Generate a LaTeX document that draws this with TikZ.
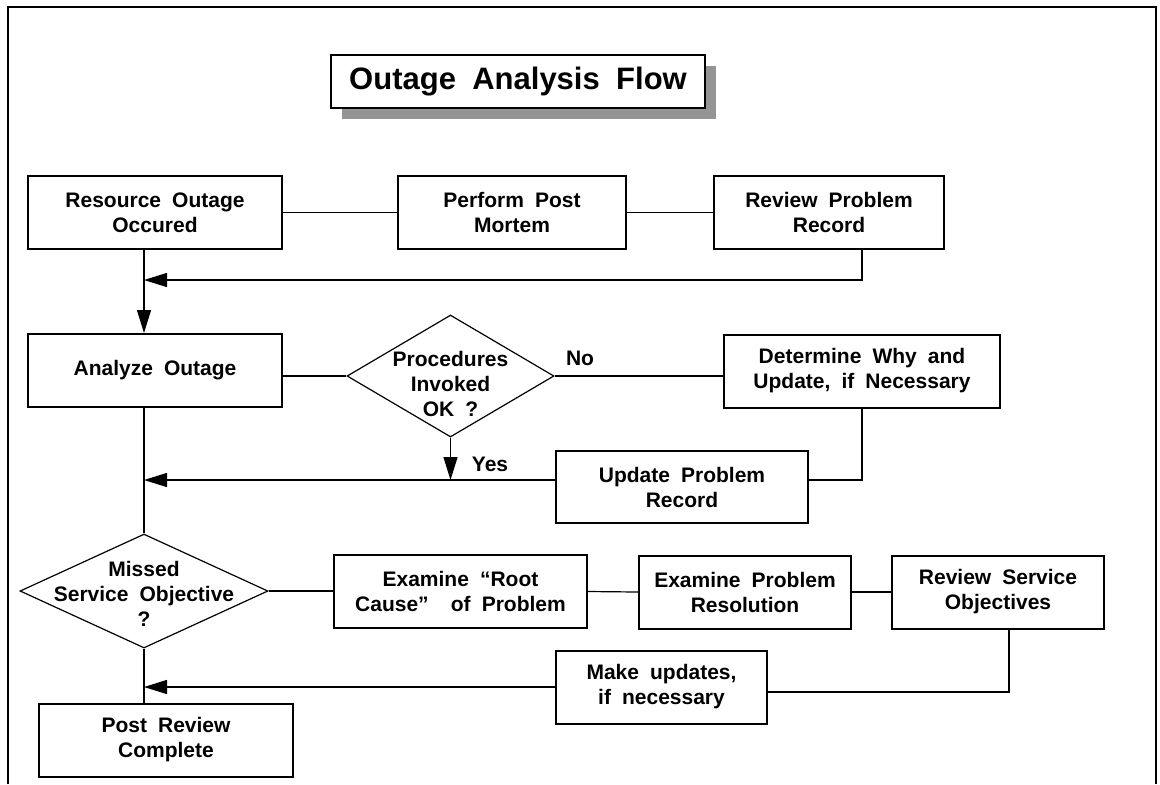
\documentclass[tikz,border=0pt]{standalone}
\usepackage{fontspec}
\setmainfont{Liberation Sans}[WordSpace=1.9]
\usetikzlibrary{arrows.meta,shapes.geometric,shadows}

\begin{document}
\begin{tikzpicture}[x=0.5pt, y=-0.5pt,
    box/.style={rectangle, draw, line width=1pt, align=center, inner sep=0pt,
      minimum height=36.5pt, font=\bfseries\fontsize{10.5}{12.5}\selectfont},
    choice/.style={diamond, draw, line width=0.6pt, inner sep=0pt},
    txt/.style={align=center, inner sep=0pt, font=\bfseries\fontsize{10.5}{12.5}\selectfont},
    link/.style={line width=0.6pt},
    flow/.style={line width=0.6pt, -{Triangle[length=11.5pt,width=7pt]}}]
  \useasboundingbox (0,0) rectangle (1160,784);

  % page frame
  \draw[line width=1pt] (8,784) -- (8,7) -- (1156,7) -- (1156,784);

  % heading
  \node[draw, line width=1.2pt, fill=white, minimum width=187pt, minimum height=26.5pt,
    font=\bfseries\fontsize{15.5}{18}\selectfont,
    drop shadow={shadow xshift=5.5pt, shadow yshift=-5.5pt, fill=black!42, opacity=1}]
    (title) at (518,81.5) {Outage Analysis Flow};

  % top row
  \node[box, minimum width=127pt] (res) at (155,212.5) {Resource Outage\\Occured};
  \node[box, minimum width=114pt] (pm) at (512,212.5) {Perform Post\\Mortem};
  \node[box, minimum width=115pt] (rpr) at (829,212.5) {Review Problem\\Record};

  % analysis
  \node[box, minimum width=127pt] (ana) at (155,370.5) {Analyze Outage};
  \node[choice, minimum width=103.5pt, minimum height=61pt] (proc) at (450.5,376) {};
  \node[txt] (proctxt) at (450.5,384) {Procedures\\Invoked\\OK ?};
  \node[box, minimum width=138pt] (det) at (862,371) {Determine Why and\\Update, if Necessary};
  \node[box, minimum width=126pt, minimum height=36pt] (upd) at (682,487) {Update Problem\\Record};
  \node[txt] (no) at (580,358) {No};
  \node[txt] (yes) at (490,464) {Yes};

  % service objective check
  \node[choice, minimum width=124pt, minimum height=57pt] (miss) at (144,591) {};
  \node[txt] (misstxt) at (144,594) {Missed\\Service Objective\\?};
  \node[box, minimum width=126.5pt] (root) at (460.5,591.5) {Examine “Root\\Cause”\ \ of Problem};
  \node[box, minimum width=106pt] (resn) at (745,592) {Examine Problem\\Resolution};
  \node[box, minimum width=106pt] (rso) at (998,592) {Review Service\\Objectives};
  \node[box, minimum width=105.5pt] (mku) at (661.5,687) {Make updates,\\if necessary};
  \node[box, minimum width=127pt] (post) at (166,740) {Post Review\\Complete};

  % trunk and return points
  \coordinate (trunk) at (144,0);
  \coordinate (back1) at (862,280);
  \coordinate (back2) at (144,480);
  \coordinate (back3) at (1009,692);

  \draw[link] (res.east) -- (pm.west);
  \draw[link] (pm.east) -- (rpr.west);
  \draw[flow] (res.south -| trunk) -- (ana.north -| trunk);
  \draw[flow] (rpr.south -| back1) |- (back1 -| trunk);

  \draw[link] (ana.east |- proc.west) -- (proc.west);
  \draw[link] (proc.east) -- (proc.east -| det.west);
  \draw[flow] (proc.south) -- (proc.south |- back2);
  \draw[link] (det.south) |- (upd.east |- back2);
  \draw[flow] (upd.west |- back2) -- (back2);
  \draw[link] (ana.south -| trunk) -- (miss.north);

  \draw[link] (miss.east) -- (miss.east -| root.west);
  \draw[link] (root.east) -- (resn.west);
  \draw[link] (resn.east) -- (rso.west);
  \draw[link] (rso.south -| back3) |- (mku.east |- back3);
  \draw[flow] (mku.west) -- (mku.west -| trunk);
  \draw[link] (miss.south) -- (post.north -| miss.south);
\end{tikzpicture}
\end{document}
